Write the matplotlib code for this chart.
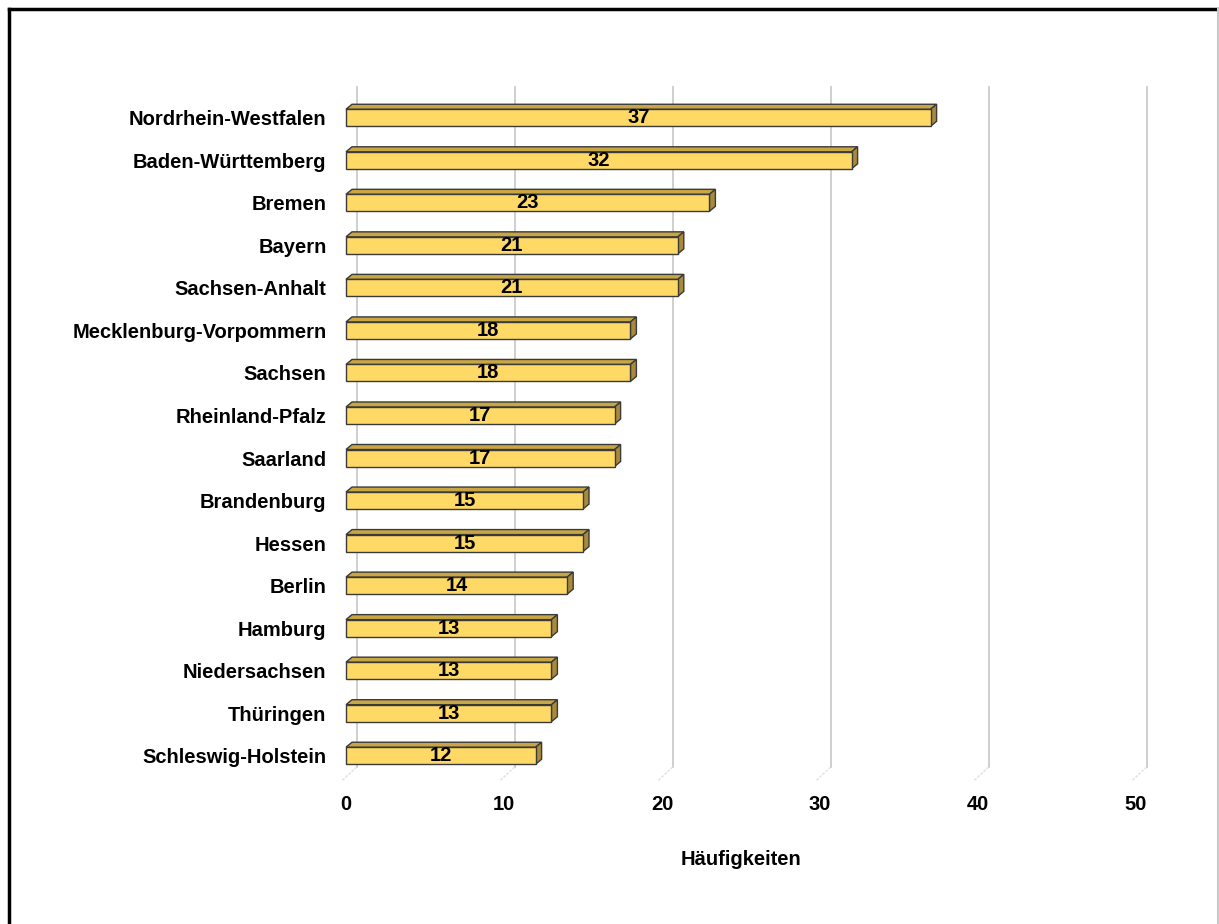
import matplotlib.pyplot as plt
from matplotlib.patches import Polygon, Rectangle
from matplotlib.lines import Line2D
from matplotlib.transforms import offset_copy

plt.rcParams['font.family'] = ['Liberation Sans', 'DejaVu Sans']

# Daten
laender = ["Nordrhein-Westfalen", "Baden-Württemberg", "Bremen", "Bayern",
           "Sachsen-Anhalt", "Mecklenburg-Vorpommern", "Sachsen",
           "Rheinland-Pfalz", "Saarland", "Brandenburg", "Hessen", "Berlin",
           "Hamburg", "Niedersachsen", "Thüringen", "Schleswig-Holstein"]
haeufigkeiten = [37, 32, 23, 21, 21, 18, 18, 17, 17, 15, 15, 14, 13, 13, 13, 12]
x_ticks = [0, 10, 20, 30, 40, 50]

W, H = 1219, 924
fig = plt.figure(figsize=(W / 100, H / 100), dpi=100)
ax = fig.add_axes([346 / W, 1 - 777 / H, 790 / W, 680.5 / H])

n = len(laender)
xmax = 50
ax.set_xlim(0, xmax)
ax.set_ylim(-0.5, n - 0.5)

# Pixel -> Dateneinheiten
px_x = xmax / 790.0
px_y = n / 680.5

# Gitterlinien auf der Rückwand (3D-Versatz)
back = offset_copy(ax.transData, fig=fig, x=10.7, y=10, units='dots')
for t in x_ticks:
    ax.add_line(Line2D([t, t], [-0.5, n - 0.5], transform=back,
                       color='#cfcfcf', lw=1.4, zorder=0, clip_on=False))
    # Bodenkante
    ax.add_line(Line2D([t, t - 15 * px_x], [-0.5, -0.5 - 14 * px_y],
                       transform=back, color='#e0e0e0', lw=1.0, ls=(0, (2, 1)),
                       zorder=0, clip_on=False))

bh = 0.4
ddx = 6 * px_x
ddy = 5 * px_y
front_c = '#ffd966'
top_c = '#c9a644'
side_c = '#a88a3a'
edge_c = '#3a3a3a'

fs = 14.5
for i, (name, v) in enumerate(zip(laender, haeufigkeiten)):
    y = n - 1 - i
    y0, y1 = y - bh / 2, y + bh / 2
    top = Polygon([(0, y1), (v, y1), (v + ddx, y1 + ddy), (ddx, y1 + ddy)],
                  closed=True, facecolor=top_c, edgecolor=edge_c, lw=1,
                  zorder=3, clip_on=False)
    side = Polygon([(v, y0), (v + ddx, y0 + ddy), (v + ddx, y1 + ddy), (v, y1)],
                   closed=True, facecolor=side_c, edgecolor=edge_c, lw=1,
                   zorder=3, clip_on=False)
    front = Rectangle((0, y0), v, bh, facecolor=front_c, edgecolor=edge_c,
                      lw=1, zorder=4, clip_on=False)
    ax.add_patch(top)
    ax.add_patch(side)
    ax.add_patch(front)
    ax.text(v / 2, y, str(v), ha='center', va='center', fontsize=fs,
            fontweight='bold', color='black', zorder=5)

ax.set_yticks(range(n))
ax.set_yticklabels(laender[::-1], fontsize=fs, fontweight='bold')
ax.set_xticks(x_ticks)
ax.set_xticklabels([str(t) for t in x_ticks], fontsize=fs, fontweight='bold')
ax.tick_params(axis='y', length=0, pad=14)
ax.tick_params(axis='x', length=0, pad=13)
ax.set_xlabel('Häufigkeiten', fontsize=fs, fontweight='bold', labelpad=26)
for s in ax.spines.values():
    s.set_visible(False)

# Rahmen des Diagramms
fig.add_artist(Line2D([9 / W, 9 / W], [0, 1 - 9 / H], transform=fig.transFigure,
                      color='black', lw=2.5))
fig.add_artist(Line2D([9 / W, 1], [1 - 9 / H, 1 - 9 / H], transform=fig.transFigure,
                      color='black', lw=2.5))
fig.add_artist(Line2D([1217.5 / W, 1217.5 / W], [0, 1 - 9 / H],
                      transform=fig.transFigure, color='#c8c8c8', lw=1.5))

fig.savefig('out.png', dpi=100)
